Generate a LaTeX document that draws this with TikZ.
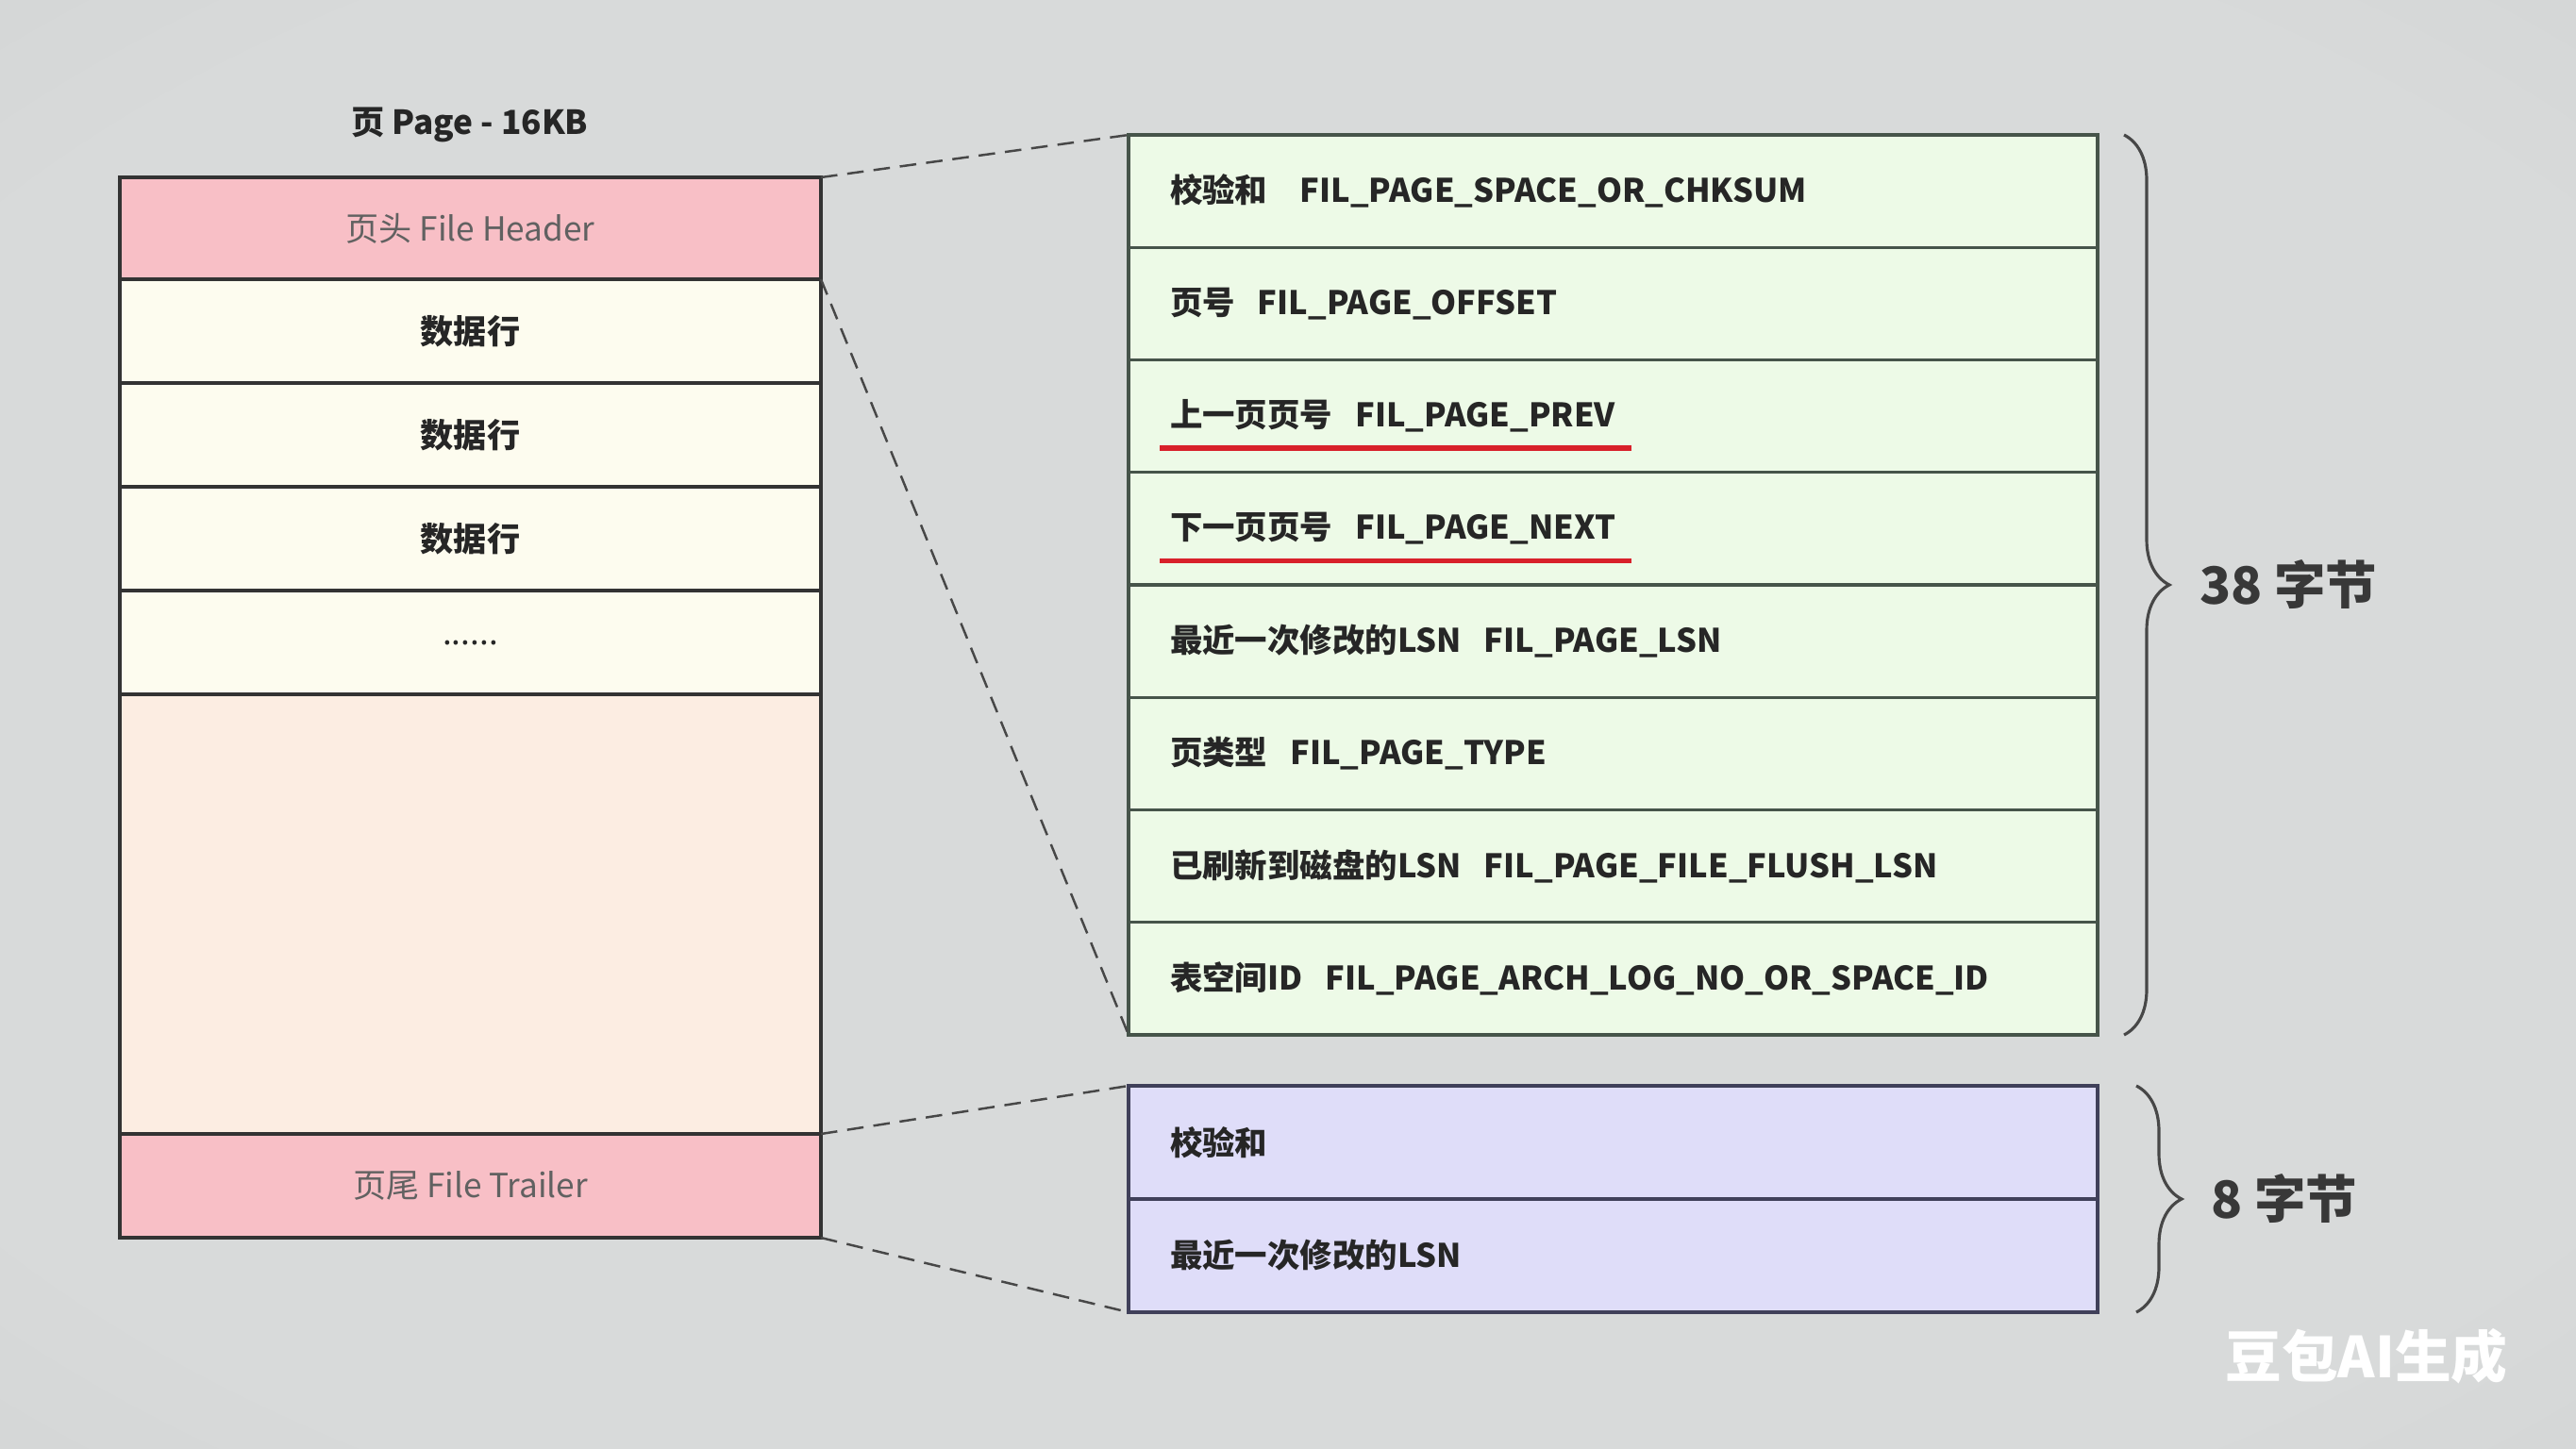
\documentclass[tikz,border=0pt]{standalone}
\usepackage{fontspec}
\setmainfont{Noto Sans CJK SC}
\usetikzlibrary{positioning,decorations.pathreplacing,calc}

\definecolor{bgin}{HTML}{D8DADA}
\definecolor{bgout}{HTML}{C6C8C8}
\definecolor{hdrpink}{HTML}{F8BFC6}
\definecolor{rowcream}{HTML}{FDFCEF}
\definecolor{freepeach}{HTML}{FCEDE2}
\definecolor{fldgreen}{HTML}{EDFAE7}
\definecolor{fldgreenline}{HTML}{46544A}
\definecolor{trlblue}{HTML}{DFDDF9}
\definecolor{trlblueline}{HTML}{40405A}
\definecolor{boxline}{HTML}{333333}
\definecolor{txt}{HTML}{262626}
\definecolor{ulred}{HTML}{D8202A}

\pgfdeclareradialshading{bgshade}{\pgfpoint{0bp}{0bp}}{color(0bp)=(bgin); color(30bp)=(bgin); color(60bp)=(bgout); color(75bp)=(bgout)}

\newcommand{\fldgap}{\hspace{0.7em}}

\tikzset{
  lrow/.style={draw=boxline, line width=0.95pt, fill=rowcream, minimum width=7.43cm,
    minimum height=1.10cm, inner sep=0pt, outer sep=0pt, text=txt, font=\bfseries},
  hrow/.style={lrow, fill=hdrpink, text=black!62, font=\normalfont},
  fldrow/.style={draw=fldgreenline, line width=0.9pt, fill=fldgreen, minimum width=10.27cm,
    minimum height=1.1925cm, text width=9.39cm, align=left, inner xsep=0.44cm,
    inner ysep=0pt, outer sep=0pt, text=txt, font=\bfseries\fontsize{9.8}{12}\selectfont},
  trlrow/.style={fldrow, draw=trlblueline, fill=trlblue, minimum height=1.20cm},
  link/.style={dashed, dash pattern=on 5pt off 3pt, line width=0.7pt, black!72},
  redline/.style={draw=ulred, line width=1.6pt},
  brc/.style={decorate, decoration={brace, amplitude=0.48cm}, line width=0.9pt, black!72},
  bytes/.style={anchor=west, inner sep=0pt, text=black!78,
    font=\bfseries\fontsize{15.5}{18}\selectfont},
}

\begin{document}
\begin{tikzpicture}
  \useasboundingbox (0,0) rectangle (27.3,-15.35);
  \shade[shading=bgshade] (0,0) rectangle (27.3,-15.35);

  % --- 左侧：页 ---
  \node[font=\bfseries, text=txt] (title) at (4.98,-1.32) {页 Page - 16KB};
  \node[hrow, anchor=north west, minimum height=1.08cm] (hdr) at (1.27,-1.88) {页头 File Header};
  \node[lrow, below=0pt of hdr] (d1) {数据行};
  \node[lrow, below=0pt of d1] (d2) {数据行};
  \node[lrow, below=0pt of d2] (d3) {数据行};
  \node[lrow, below=0pt of d3, font=\normalfont] (dots) {......};
  \node[lrow, below=0pt of dots, fill=freepeach, minimum height=4.66cm] (free) {};
  \node[hrow, below=0pt of free] (trl) {页尾 File Trailer};

  % --- 右侧：File Header ---
  \node[fldrow, anchor=north west] (g1) at (11.96,-1.43) {校验和\hspace{1em}FIL\_PAGE\_SPACE\_OR\_CHKSUM};
  \node[fldrow, below=0pt of g1] (g2) {页号\fldgap FIL\_PAGE\_OFFSET};
  \node[fldrow, below=0pt of g2] (g3) {上一页页号\fldgap FIL\_PAGE\_PREV};
  \node[fldrow, below=0pt of g3] (g4) {下一页页号\fldgap FIL\_PAGE\_NEXT};
  \node[fldrow, below=0pt of g4] (g5) {最近一次修改的LSN\fldgap FIL\_PAGE\_LSN};
  \node[fldrow, below=0pt of g5] (g6) {页类型\fldgap FIL\_PAGE\_TYPE};
  \node[fldrow, below=0pt of g6] (g7) {已刷新到磁盘的LSN\fldgap FIL\_PAGE\_FILE\_FLUSH\_LSN};
  \node[fldrow, below=0pt of g7] (g8) {表空间ID\fldgap FIL\_PAGE\_ARCH\_LOG\_NO\_OR\_SPACE\_ID};
  % 红线
  \draw[redline] ([shift={(0.33cm,-0.34cm)}]g3.west) -- ([shift={(5.33cm,-0.34cm)}]g3.west);
  \draw[redline] ([shift={(0.33cm,-0.34cm)}]g4.west) -- ([shift={(5.33cm,-0.34cm)}]g4.west);

  % --- 右侧：File Trailer ---
  \node[trlrow, anchor=north west] (b1) at (11.96,-11.51) {校验和};
  \node[trlrow, below=0pt of b1] (b2) {最近一次修改的LSN};

  % --- 虚线 ---
  \draw[link] (hdr.north east) -- (g1.north west);
  \draw[link] (hdr.south east) -- (g8.south west);
  \draw[link] (trl.north east) -- (b1.north west);
  \draw[link] (trl.south east) -- (b2.south west);

  % --- 括号 ---
  \draw[brc] ([xshift=0.28cm]g1.north east) -- ([xshift=0.28cm]g8.south east)
    node[bytes, midway, xshift=0.79cm] (n38) {38 字节};
  \draw[brc] ([xshift=0.41cm]b1.north east) -- ([xshift=0.41cm]b2.south east)
    node[bytes, midway, xshift=0.78cm] (n8) {8 字节};

  \node[font=\bfseries\fontsize{17}{20}\selectfont, text=white] (wm) at (25.08,-14.38) {豆包AI生成};
\end{tikzpicture}
\end{document}
